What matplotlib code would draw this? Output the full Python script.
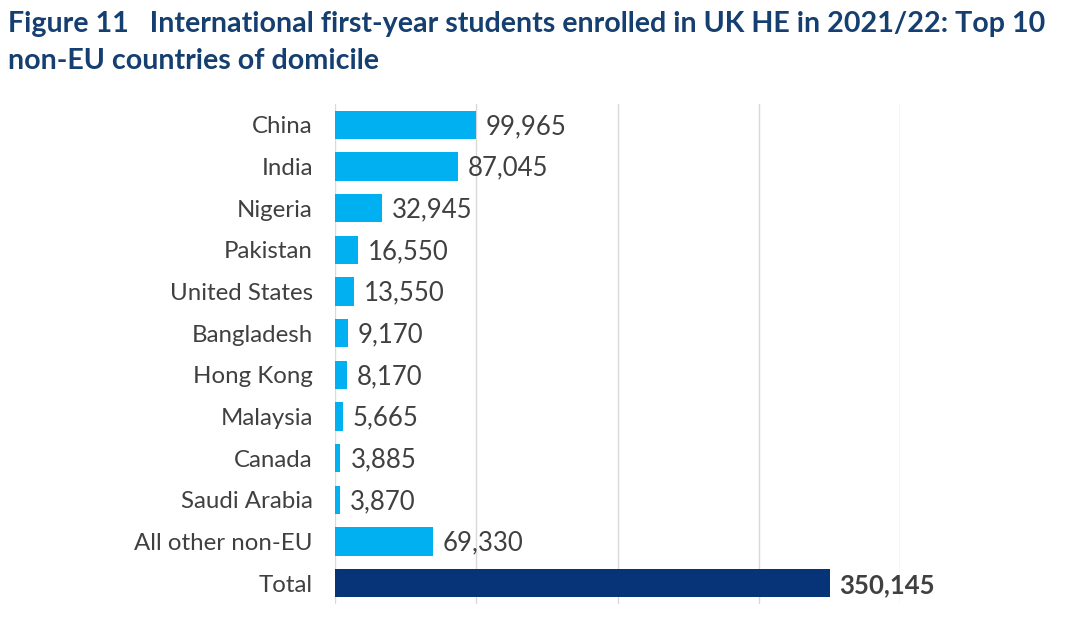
import matplotlib
matplotlib.use("Agg")
import matplotlib.pyplot as plt

countries = ["China", "India", "Nigeria", "Pakistan", "United States", "Bangladesh",
             "Hong Kong", "Malaysia", "Canada", "Saudi Arabia", "All other non-EU", "Total"]
students = [99965, 87045, 32945, 16550, 13550, 9170, 8170, 5665, 3885, 3870, 69330, 350145]

light_blue = "#00B0F0"
navy = "#073478"
text_grey = "#404040"

plt.rcParams['font.family'] = ['Lato', 'DejaVu Sans']

fig = plt.figure(figsize=(10.8, 6.18), dpi=100)
ax = fig.add_axes([335/1080, 1 - 604/618, (900-335)/1080, 500/618])

colors = [light_blue] * (len(countries) - 1) + [navy]
ypos = list(range(len(countries)))
ax.barh(ypos, students, height=0.68, color=colors, zorder=2)

for i, v in enumerate(students):
    bold = countries[i] == "Total"
    ax.text(v + 7000, i + 0.04, f"{v:,}", va="center", ha="left", fontsize=18.5,
            color=text_grey, fontweight="bold" if bold else "normal")

ax.set_xlim(0, 400000)
ax.set_ylim(len(countries) - 0.5, -0.5)
ax.set_yticks(ypos)
ax.set_yticklabels(countries, fontsize=17.3, color=text_grey)
ax.set_xticks([0, 100000, 200000, 300000, 400000])
ax.set_xticklabels([])
ax.tick_params(axis="both", length=0, pad=16)
ax.grid(axis="x", color="#D9D9D9", linewidth=1, zorder=0)
for s in ax.spines.values():
    s.set_visible(False)

fig.text(8/1080, 1 - 32/618, "Figure 11   International first-year students enrolled in UK HE in 2021/22: Top 10",
         fontsize=20.6, fontweight="bold", color="#153F70", va="baseline")
fig.text(8/1080, 1 - 69/618, "non-EU countries of domicile",
         fontsize=20.6, fontweight="bold", color="#153F70", va="baseline")

fig.savefig("out.png", dpi=100)
